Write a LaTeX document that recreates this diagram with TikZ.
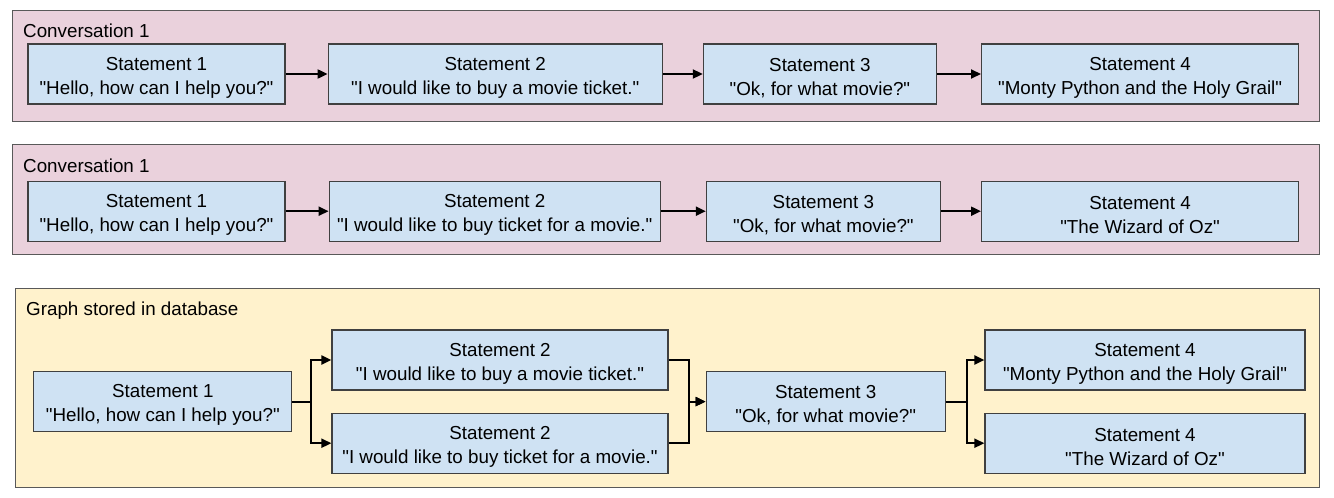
\documentclass[tikz,border=0pt]{standalone}
\usepackage{fontspec}
\setmainfont{Liberation Sans}[Ligatures=TeXOff]
\usetikzlibrary{positioning,arrows.meta,calc}

\definecolor{stmtblue}{HTML}{CFE2F3}
\definecolor{stmtedge}{HTML}{404040}
\definecolor{convpink}{HTML}{EAD1DC}
\definecolor{dbyellow}{HTML}{FFF2CC}
\definecolor{paneledge}{HTML}{595959}

% two-line statement text, first line a little lower
\newcommand{\statement}[2]{\rule{0pt}{20.5pt}Statement #1\\"#2"}

\begin{document}
\begin{tikzpicture}[
    x=1pt, y=1pt,
    font=\fontsize{18.8}{24}\selectfont,
    >={Triangle[length=10pt,width=9pt]},
    stmt/.style={
        draw=stmtedge,
        fill=stmtblue,
        line width=1.2pt,
        align=center,
        inner sep=0pt,
        minimum height=60pt
    },
    panel/.style={
        draw=paneledge,
        line width=1.2pt,
        anchor=north west,
        inner sep=0pt
    },
    paneltitle/.style={
        anchor=base west,
        inner sep=0pt
    },
    flow/.style={
        ->,
        line width=2pt
    }
]

\useasboundingbox (0,0) rectangle (1334,-498);

% Panels
\node[panel, fill=convpink, minimum width=1307pt, minimum height=111pt] (conv1) at (12,-10) {};
\node[paneltitle] (conv1title) at ($(conv1.north west)+(11,-27)$) {Conversation 1};

\node[panel, fill=convpink, minimum width=1307pt, minimum height=110pt] (conv2) at (12,-144) {};
\node[paneltitle] (conv2title) at ($(conv2.north west)+(11,-28)$) {Conversation 1};

\node[panel, fill=dbyellow, minimum width=1304pt, minimum height=199pt] (graph) at (15,-288) {};
\node[paneltitle] (graphtitle) at ($(graph.north west)+(11,-27)$) {Graph stored in database};

% Conversation 1 (first)
\node[stmt, minimum width=257pt] (c1s1) at (156.5,-74) {\statement{1}{Hello, how can I help you?}};
\node[stmt, minimum width=334pt, right=42pt of c1s1] (c1s2) {\statement{2}{I would like to buy a movie ticket.}};
\node[stmt, minimum width=233pt, right=40pt of c1s2] (c1s3) {\statement{3}{Ok, for what movie?}};
\node[stmt, minimum width=317pt, right=44pt of c1s3] (c1s4) {\statement{4}{Monty Python and the Holy Grail}};

% Conversation 1 (second)
\node[stmt, minimum width=257pt, below=76pt of c1s1] (c2s1) {\statement{1}{Hello, how can I help you?}};
\node[stmt, minimum width=331pt, right=43pt of c2s1] (c2s2) {\statement{2}{I would like to buy ticket for a movie.}};
\node[stmt, minimum width=234pt, right=45pt of c2s2] (c2s3) {\statement{3}{Ok, for what movie?}};
\node[stmt, minimum width=317pt, right=40pt of c2s3] (c2s4) {\statement{4}{The Wizard of Oz}};

% Graph stored in database
\node[stmt, minimum width=336pt] (g2a) at (500,-360) {\statement{2}{I would like to buy a movie ticket.}};
\node[stmt, minimum width=336pt, below=22pt of g2a] (g2b) {\statement{2}{I would like to buy ticket for a movie.}};
\coordinate (g2in) at ($(g2a.west)!0.5!(g2b.west)$);
\coordinate (g2out) at ($(g2a.east)!0.5!(g2b.east)$);
\node[stmt, minimum width=258pt, left=39pt of g2in] (g1) {\statement{1}{Hello, how can I help you?}};
\node[stmt, minimum width=239pt, right=37pt of g2out] (g3) {\statement{3}{Ok, for what movie?}};
\node[stmt, minimum width=320pt] (g4a) at (1145,-360) {\statement{4}{Monty Python and the Holy Grail}};
\node[stmt, minimum width=320pt, below=22pt of g4a] (g4b) {\statement{4}{The Wizard of Oz}};

% Connections
\draw[flow] (c1s1) -- (c1s2);
\draw[flow] (c1s2) -- (c1s3);
\draw[flow] (c1s3) -- (c1s4);

\draw[flow] (c2s1) -- (c2s2);
\draw[flow] (c2s2) -- (c2s3);
\draw[flow] (c2s3) -- (c2s4);

\draw[flow] (g1.east) -- ++(19,0) |- (g2a.west);
\draw[flow] (g1.east) -- ++(19,0) |- (g2b.west);
\draw[flow] (g2a.east) -- ++(20,0) |- (g3.west);
\draw[flow] (g2b.east) -- ++(20,0) |- (g3.west);
\draw[flow] (g3.east) -- ++(21,0) |- (g4a.west);
\draw[flow] (g3.east) -- ++(21,0) |- (g4b.west);

\end{tikzpicture}
\end{document}
